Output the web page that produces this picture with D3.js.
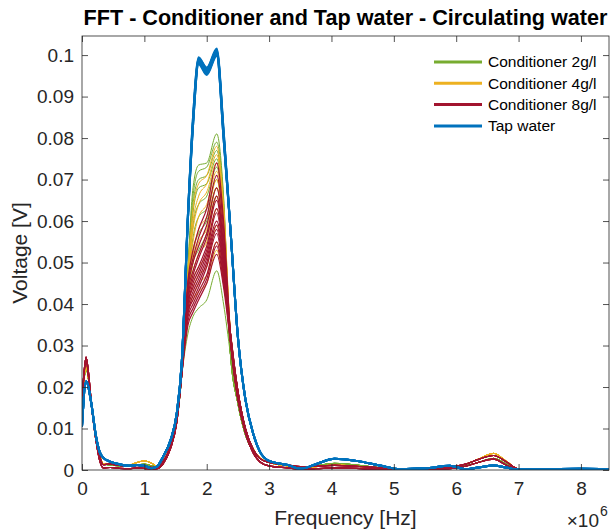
<!DOCTYPE html>
<html>
<head>
<meta charset="utf-8">
<script src="https://cdn.jsdelivr.net/npm/d3@7"></script>
<style>
  body { margin: 0; background: #fff; }
  svg { display: block; font-family: "Liberation Sans", Arial, Helvetica, sans-serif; }
</style>
</head>
<body>
<div id="fft-chart"></div>
<script>
// frequency grid in MHz (axis is labelled in units of 10^6 Hz)
var freqPre  = [0, 0.065, 0.15, 0.22, 0.28, 0.34, 0.45, 0.6, 0.75, 0.88, 1.0, 1.12, 1.2, 1.3, 1.42, 1.52, 1.6];
var freqPeak = [1.7, 1.78, 1.87, 2.0, 2.16, 2.27];
var freqPost = [2.38, 2.5, 2.62, 2.75, 2.85, 3.0, 3.3, 3.5, 3.75, 4.05, 4.4, 4.8, 5.1, 5.5, 5.9, 6.15, 6.35, 6.6, 6.8, 7.0, 7.4, 8.0, 8.45];

var seriesNames  = ['Conditioner 2g/l', 'Conditioner 4g/l', 'Conditioner 8g/l', 'Tap water'];
var seriesColors = ['#77AC30', '#EDB120', '#A2142F', '#0072BD'];

var xTickValues = [0, 1, 2, 3, 4, 5, 6, 7, 8];
var xTickLabels = ['0', '1', '2', '3', '4', '5', '6', '7', '8'];
var yTickValues = [0, 0.01, 0.02, 0.03, 0.04, 0.05, 0.06, 0.07, 0.08, 0.09, 0.1];
var yTickLabels = ['0', '0.01', '0.02', '0.03', '0.04', '0.05', '0.06', '0.07', '0.08', '0.09', '0.1'];

// Conditioner 2g/l
var greenPre  = [0.0150, 0.0245, 0.0160, 0.0085, 0.0040, 0.0015, 0.0012, 0.0010, 0.0009, 0.0012, 0.0014, 0.0010, 0.0008, 0.0018, 0.0055, 0.0118, 0.023];
var greenPost = [0.028, 0.016, 0.0085, 0.0045, 0.0030, 0.0018, 0.0010, 0.0006, 0.0010, 0.0016, 0.0012, 0.0005, 0.0001, 0.0002, 0.0004, 0.0010, 0.0018, 0.0028, 0.0015, 0.0002, 0.0001, 0.0001, 0.0001];
var greenPeaks = [
    [0.050, 0.068, 0.0735, 0.074, 0.081, 0.066],
    [0.049, 0.066, 0.072, 0.073, 0.079, 0.065],
    [0.048, 0.064, 0.070, 0.071, 0.077, 0.063],
    [0.047, 0.062, 0.068, 0.069, 0.075, 0.062],
    [0.046, 0.059, 0.064, 0.066, 0.073, 0.060],
    [0.045, 0.056, 0.061, 0.063, 0.070, 0.058],
    [0.044, 0.053, 0.057, 0.060, 0.068, 0.056],
    [0.042, 0.050, 0.053, 0.057, 0.066, 0.054],
    [0.033, 0.037, 0.039, 0.041, 0.048, 0.040]
];

// Conditioner 4g/l
var yellowPre  = [0.0150, 0.0250, 0.0160, 0.0085, 0.0040, 0.0015, 0.0014, 0.0012, 0.0012, 0.0018, 0.0022, 0.0016, 0.0010, 0.0022, 0.0060, 0.0125, 0.024];
var yellowPost = [0.033, 0.019, 0.0100, 0.0050, 0.0030, 0.0018, 0.0010, 0.0006, 0.0008, 0.0012, 0.0009, 0.0004, 0.0001, 0.0002, 0.0005, 0.0014, 0.0026, 0.0040, 0.0022, 0.0003, 0.0002, 0.0002, 0.0001];
var yellowPeaks = [
    [0.048, 0.063, 0.069, 0.071, 0.078, 0.064],
    [0.047, 0.060, 0.066, 0.069, 0.076, 0.063],
    [0.046, 0.058, 0.064, 0.067, 0.074, 0.061],
    [0.045, 0.055, 0.061, 0.064, 0.072, 0.060],
    [0.044, 0.052, 0.058, 0.061, 0.070, 0.058],
    [0.043, 0.050, 0.055, 0.058, 0.068, 0.057],
    [0.042, 0.048, 0.052, 0.055, 0.066, 0.055],
    [0.041, 0.046, 0.049, 0.052, 0.063, 0.053],
    [0.040, 0.044, 0.047, 0.049, 0.059, 0.050],
    [0.039, 0.042, 0.045, 0.047, 0.055, 0.047],
    [0.038, 0.041, 0.043, 0.045, 0.053, 0.045]
];

// Conditioner 8g/l (two edge traces, the curves alternate between them)
var redPreHi  = [0.0170, 0.0272, 0.0165, 0.0085, 0.0035, 0.0013, 0.0014, 0.0011, 0.0009, 0.0011, 0.0010, 0.0006, 0.0007, 0.0020, 0.0060, 0.0125, 0.024];
var redPreLo  = [0.0160, 0.0262, 0.0155, 0.0075, 0.0025, 0.0005, 0.0006, 0.0004, 0.0003, 0.0005, 0.0004, 0.0002, 0.0003, 0.0015, 0.0052, 0.0115, 0.023];
var redPostHi = [0.033, 0.019, 0.0100, 0.0048, 0.0028, 0.0018, 0.0012, 0.0008, 0.0009, 0.0011, 0.0009, 0.0005, 0.0002, 0.0003, 0.0007, 0.0014, 0.0025, 0.0035, 0.0020, 0.0003, 0.0002, 0.0002, 0.0001];
var redPostLo = [0.031, 0.017, 0.0090, 0.0040, 0.0020, 0.0010, 0.0005, 0.0002, 0.0003, 0.0005, 0.0004, 0.0001, 0.0000, 0.0001, 0.0003, 0.0009, 0.0018, 0.0026, 0.0012, 0.0001, 0.0000, 0.0000, 0.0000];
var redPeaks = [
    [0.046, 0.053, 0.058, 0.063, 0.074, 0.060],
    [0.045, 0.051, 0.056, 0.061, 0.071, 0.058],
    [0.044, 0.050, 0.054, 0.059, 0.068, 0.056],
    [0.043, 0.048, 0.052, 0.057, 0.066, 0.054],
    [0.042, 0.047, 0.051, 0.056, 0.065, 0.053],
    [0.041, 0.046, 0.049, 0.054, 0.063, 0.052],
    [0.040, 0.045, 0.048, 0.053, 0.062, 0.051],
    [0.040, 0.044, 0.047, 0.052, 0.060, 0.050],
    [0.039, 0.043, 0.046, 0.051, 0.059, 0.049],
    [0.038, 0.042, 0.045, 0.050, 0.058, 0.048],
    [0.038, 0.041, 0.044, 0.049, 0.057, 0.047],
    [0.037, 0.040, 0.043, 0.047, 0.055, 0.046],
    [0.036, 0.039, 0.042, 0.046, 0.054, 0.045],
    [0.035, 0.038, 0.041, 0.045, 0.052, 0.044]
];

// Tap water
var bluePre  = [0.0105, 0.0214, 0.0160, 0.0085, 0.0045, 0.0030, 0.0020, 0.0014, 0.0010, 0.0012, 0.0010, 0.0004, 0.0008, 0.0032, 0.0072, 0.0137, 0.026];
var bluePost = [0.058, 0.032, 0.017, 0.0085, 0.0045, 0.0022, 0.0012, 0.0003, 0.0014, 0.0027, 0.0022, 0.0010, 0.0002, 0.0004, 0.0010, 0.0002, 0.0006, 0.0011, 0.0006, 0.0001, 0.0002, 0.0003, 0.0002];
var bluePeaks = [
    [0.062, 0.085, 0.0995, 0.0968, 0.1016, 0.082],
    [0.062, 0.084, 0.0990, 0.0962, 0.1010, 0.081],
    [0.061, 0.084, 0.0985, 0.0958, 0.1005, 0.081],
    [0.061, 0.083, 0.0980, 0.0955, 0.1000, 0.080],
    [0.062, 0.085, 0.0992, 0.0970, 0.1008, 0.082],
    [0.061, 0.083, 0.0982, 0.0960, 0.1002, 0.080],
    [0.062, 0.084, 0.0988, 0.0965, 0.1013, 0.081],
    [0.061, 0.083, 0.0978, 0.0952, 0.0998, 0.080]
];

fftMain();

function fftMain(){
    var width = 611, height = 531;
    var plotLeft = 82, plotRight = 609, plotTop = 36, plotBottom = 470;
    var axisColor = '#262626';

    var freqAll = freqPre.concat(freqPeak, freqPost);

    // build the curves of one series: edge traces + per-curve values around the main peak
    function buildCurves(pres, peaks, posts){
        return peaks.map(function(pk, i){
            var vals = pres[i % pres.length].concat(pk, posts[i % posts.length]);
            return vals.map(function(v, j){ return [freqAll[j], v]; });
        });
    }

    var series = [
        {curves: buildCurves([greenPre], greenPeaks, [greenPost]), width: 1},
        {curves: buildCurves([yellowPre], yellowPeaks, [yellowPost]), width: 1},
        {curves: buildCurves([redPreHi, redPreLo], redPeaks, [redPostHi, redPostLo]), width: 1.2},
        {curves: buildCurves([bluePre], bluePeaks, [bluePost]), width: 2}
    ];

    var svg = d3.select('#fft-chart').append('svg')
        .attr('width', width)
        .attr('height', height);

    var x = d3.scaleLinear().domain([0, 8.45]).range([plotLeft, plotRight]);
    var y = d3.scaleLinear().domain([0, 0.1046]).range([plotBottom, plotTop]);

    svg.append('defs').append('clipPath').attr('id', 'plot-clip')
        .append('rect')
        .attr('x', plotLeft).attr('y', plotTop)
        .attr('width', plotRight - plotLeft).attr('height', plotBottom - plotTop);

    // curves
    var line = d3.line()
        .curve(d3.curveMonotoneX)
        .x(function(d){ return x(d[0]); })
        .y(function(d){ return y(d[1]); });

    var curveContainer = svg.append('g').attr('clip-path', 'url(#plot-clip)');
    series.forEach(function(s, si){
        curveContainer.append('g')
            .selectAll('path')
            .data(s.curves)
            .enter().append('path')
            .attr('d', line)
            .attr('fill', 'none')
            .attr('stroke', seriesColors[si])
            .attr('stroke-width', s.width)
            .attr('stroke-linejoin', 'round');
    });

    // axes, ticks pointing inwards on all four sides (box on)
    var tickLen = 6;
    var xAxis = d3.axisBottom(x).tickValues(xTickValues)
        .tickFormat(function(d, i){ return xTickLabels[i]; })
        .tickSizeInner(-tickLen).tickSizeOuter(0).tickPadding(12);
    var yAxis = d3.axisLeft(y).tickValues(yTickValues)
        .tickFormat(function(d, i){ return yTickLabels[i]; })
        .tickSizeInner(-tickLen).tickSizeOuter(0).tickPadding(8);

    var gx = svg.append('g').attr('transform', 'translate(0,' + plotBottom + ')').call(xAxis);
    var gy = svg.append('g').attr('transform', 'translate(' + plotLeft + ',0)').call(yAxis);
    var gxTop = svg.append('g').attr('transform', 'translate(0,' + plotTop + ')')
        .call(d3.axisTop(x).tickValues(xTickValues).tickFormat('').tickSizeInner(-tickLen).tickSizeOuter(0));
    var gyRight = svg.append('g').attr('transform', 'translate(' + plotRight + ',0)')
        .call(d3.axisRight(y).tickValues(yTickValues).tickFormat('').tickSizeInner(-tickLen).tickSizeOuter(0));

    [gx, gy, gxTop, gyRight].forEach(function(g){
        g.select('.domain').remove();
        g.selectAll('line').attr('stroke', axisColor).attr('stroke-width', 0.8);
        g.selectAll('text').attr('fill', axisColor).style('font-size', '19px')
            .style('font-family', '"Liberation Sans", Arial, sans-serif');
    });

    svg.append('rect')
        .attr('x', plotLeft).attr('y', plotTop)
        .attr('width', plotRight - plotLeft).attr('height', plotBottom - plotTop)
        .attr('fill', 'none').attr('stroke', axisColor).attr('stroke-width', 0.8);

    // title and axis labels
    svg.append('text')
        .attr('x', (plotLeft + plotRight) / 2).attr('y', 25)
        .attr('text-anchor', 'middle')
        .style('font-size', '21.6px').style('font-weight', 'bold')
        .attr('fill', '#000')
        .text('FFT - Conditioner and Tap water - Circulating water');

    svg.append('text')
        .attr('x', (plotLeft + plotRight) / 2).attr('y', 525)
        .attr('text-anchor', 'middle')
        .style('font-size', '21px').attr('fill', axisColor)
        .text('Frequency [Hz]');

    svg.append('text')
        .attr('transform', 'translate(27,' + (plotTop + plotBottom) / 2 + ') rotate(-90)')
        .attr('text-anchor', 'middle')
        .style('font-size', '21px').attr('fill', axisColor)
        .text('Voltage [V]');

    svg.append('text')
        .attr('x', 599).attr('y', 527)
        .attr('text-anchor', 'end')
        .style('font-size', '19px').attr('fill', axisColor)
        .text('\u00d710');
    svg.append('text')
        .attr('x', 600).attr('y', 516)
        .style('font-size', '14px').attr('fill', axisColor)
        .text('6');

    // legend
    var legendContainer = svg.append('g').attr('class', 'fft-legend');
    var legendRows = legendContainer.selectAll('g')
        .data(seriesNames)
        .enter().append('g')
        .attr('transform', function(d, i){ return 'translate(434,' + (62 + i * 21.3) + ')'; });
    legendRows.append('line')
        .attr('x1', 0).attr('x2', 48).attr('y1', 0).attr('y2', 0)
        .attr('stroke', function(d, i){ return seriesColors[i]; })
        .attr('stroke-width', 3);
    legendRows.append('text')
        .attr('x', 54).attr('y', 0).attr('dy', '0.35em')
        .style('font-size', '15.5px').attr('fill', '#000')
        .text(function(d){ return d; });
}
</script>
</body>
</html>
